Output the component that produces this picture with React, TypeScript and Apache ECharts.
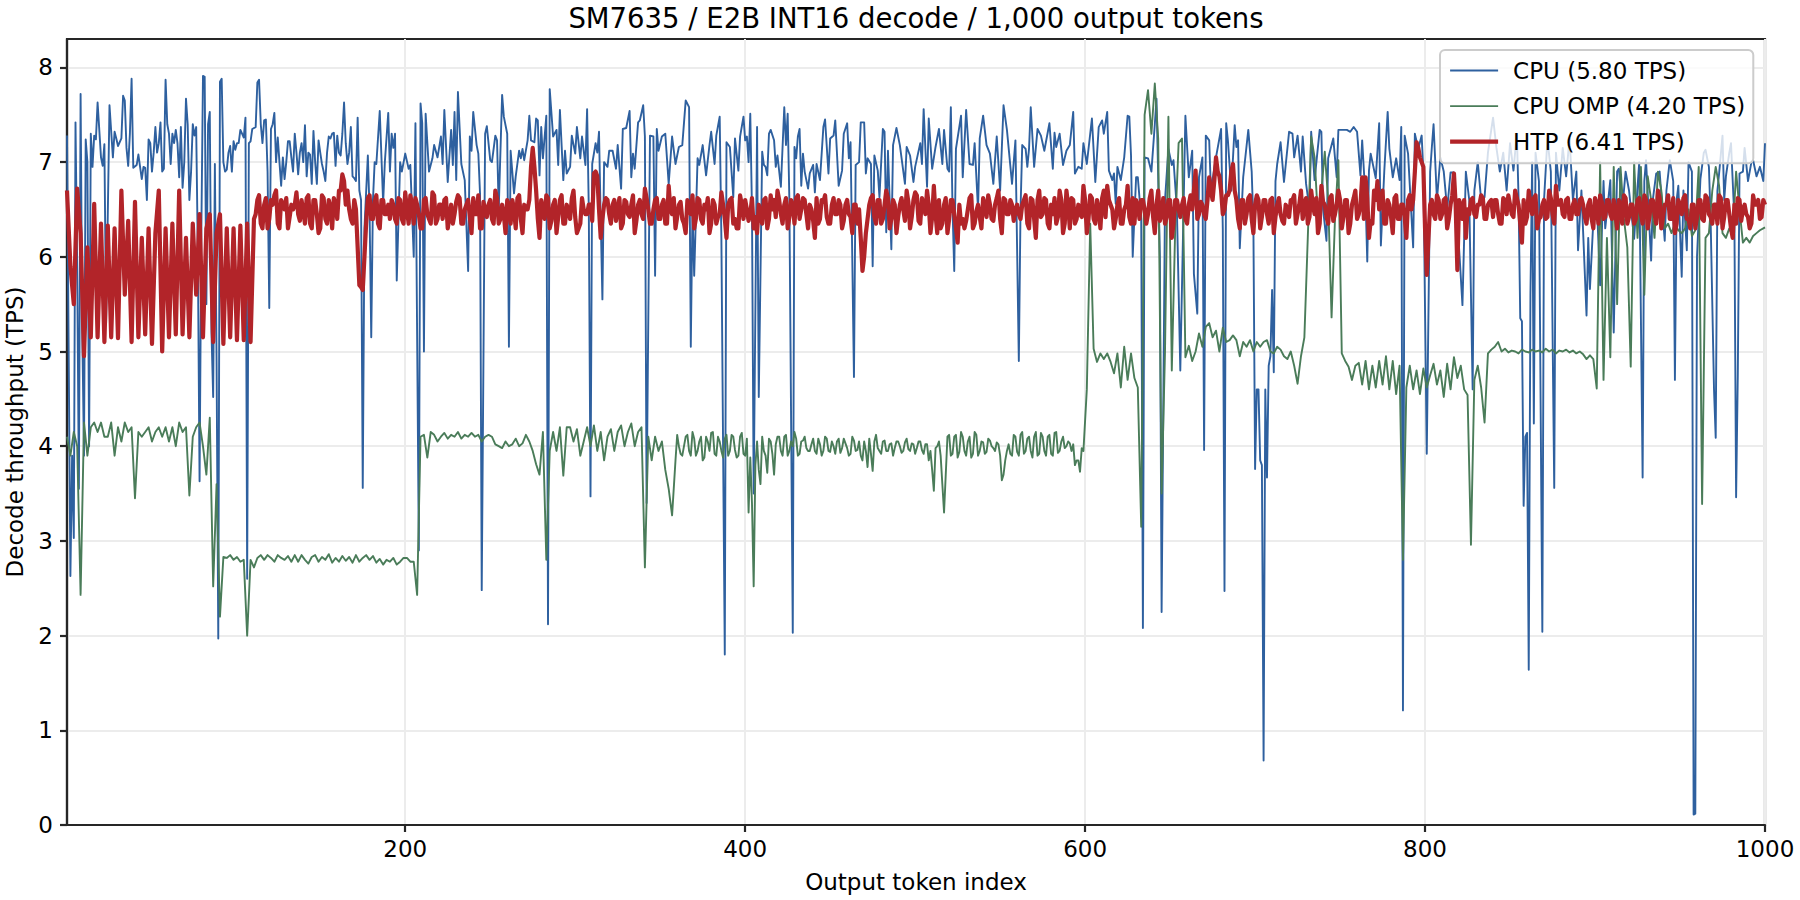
import React, { useEffect, useRef } from "react";
import * as echarts from "echarts";

const titleText = "SM7635 / E2B INT16 decode / 1,000 output tokens";
const xTicks = [200, 400, 600, 800, 1000];
const yTicks = [0, 1, 2, 3, 4, 5, 6, 7, 8];

// CPU: [token index, TPS]
const cpuA = [[1,7.28],[3,2.63],[4,3.9],[5,3.03],[6,7.42],[7,5.9],[8,3.55],[9,7.72],[10,5.2],[11,3.9],[12,7.24],[13,7.0],[14,4.0],[15,7.3],[16,6.95],[17,7.28],[18,7.24],[19,7.63],[21,7.05],[22,6.96],[23,7.19],[24,5.3],[26,7.6],[28,7.05],[29,7.32],[30,7.25],[31,7.17],[33,7.25],[34,7.7],[35,7.65],[36,7.15],[37,6.96],[38,7.3],[39,7.88],[40,6.94],[42,6.97],[43,7.08],[44,6.95],[45,6.82],[46,6.95],[47,6.94],[48,6.6],[49,7.24],[50,7.2],[51,6.9],[52,7.1],[53,7.37],[54,7.1],[55,7.2],[56,7.42],[57,6.9],[58,6.93],[59,7.87],[60,7.4],[61,7.3],[62,6.98],[63,7.3],[64,7.2],[65,7.34],[66,7.2],[67,6.84],[68,7.37],[69,6.73],[70,7.0],[71,7.67],[72,7.4],[73,6.6],[74,6.9],[75,7.4],[76,7.28],[77,7.37],[78,6.0],[79,3.63],[80,6.2],[81,7.91],[82,7.9],[83,5.5],[84,7.4],[85,7.53],[86,5.2],[87,4.52],[88,6.98],[89,4.9],[90,1.97],[91,7.85],[92,7.88],[93,7.0],[94,6.9],[95,6.92],[96,7.1],[97,7.17],[98,6.9],[99,7.22],[100,7.13]];
const cpuB = [[101,7.2],[102,7.2],[103,7.34],[104,7.3],[105,7.26],[106,7.47],[107,2.6],[108,7.2],[109,7.22],[110,7.35],[112,7.37],[113,7.84],[114,7.87],[115,7.4],[116,7.2],[117,7.44],[118,7.45],[119,6.9],[120,5.46],[121,7.35],[122,7.4],[123,7.52],[124,7.0],[125,7.26],[126,7.0],[127,6.75],[128,7.05],[129,6.82],[130,7.0],[131,7.22],[132,7.22],[133,7.05],[134,6.9],[135,7.3],[136,7.1],[137,6.87],[138,7.1],[139,7.2],[140,7.0],[141,7.39],[142,6.85],[143,7.1],[144,7.08],[145,6.77],[146,7.33],[147,7.0],[148,6.77],[149,7.23],[150,7.1],[151,6.98],[152,6.9],[153,6.8],[154,7.1],[155,7.27],[156,7.25],[157,7.3],[158,7.31],[159,6.96],[160,7.28],[161,7.1],[162,7.07],[163,7.3],[164,7.63],[165,7.2],[166,6.98],[167,7.1],[168,7.37],[169,6.85],[170,6.83],[171,6.8],[172,7.47],[173,6.7],[174,6.6],[175,3.56],[176,6.3],[178,7.07],[179,6.5],[180,5.15],[181,6.6],[182,7.0],[183,6.98],[185,7.54],[187,6.57],[188,7.0],[190,7.52],[191,6.9],[192,7.3],[193,7.15],[194,7.3],[195,5.75],[197,7.0],[198,6.9],[200,7.09]];
const cpuC = [[202,6.93],[203,6.97],[205,6.0],[206,7.41],[208,2.9],[209,7.62],[210,7.41],[211,5.0],[212,7.51],[214,6.9],[216,7.04],[217,7.18],[219,7.05],[221,7.27],[222,6.98],[223,7.55],[225,6.79],[227,7.34],[228,6.97],[229,7.53],[230,6.81],[231,7.74],[233,6.98],[235,6.81],[237,5.85],[238,7.27],[239,7.12],[240,7.53],[242,7.18],[243,7.09],[244,6.67],[245,2.48],[247,7.3],[248,7.38],[250,7.02],[251,7.0],[253,7.28],[254,7.23],[255,6.5],[257,7.71],[258,7.48],[260,7.3],[261,5.05],[262,7.12],[264,6.67],[265,6.85],[267,7.12],[268,7.04],[269,7.14],[270,7.02],[272,7.23],[273,7.49],[274,7.23],[276,7.21],[277,7.46],[278,7.44],[279,6.86],[280,7.37],[281,7.04],[283,7.49],[284,2.12],[285,7.77],[287,7.27],[289,7.34],[290,6.97],[291,7.55],[293,6.81],[294,7.12],[295,6.88],[297,6.95],[298,7.28],[300,7.09],[301,7.37],[303,7.04],[304,7.27],[306,6.97],[307,7.56],[308,6.5],[309,3.47],[310,6.98],[312,7.2],[313,7.1],[314,7.32],[315,6.4],[316,5.55],[317,7.0],[319,6.95],[320,7.12],[322,7.12],[324,6.93],[325,7.18],[327,6.72],[328,7.35],[330,7.36],[332,7.54],[333,6.84],[334,7.09],[335,6.93],[337,7.42],[338,7.44],[340,7.6],[341,7.27],[342,3.4]];
const cpuD = [[344,7.28],[346,7.27],[347,5.8],[348,7.35],[349,7.12],[351,7.27],[353,7.3],[355,6.77],[357,7.27],[359,6.98],[361,7.16],[363,7.18],[365,7.65],[367,7.58],[368,5.05],[369,6.5],[370,5.8],[372,7.04],[373,6.97],[375,7.18],[377,6.86],[379,7.18],[380,7.32],[382,6.98],[383,7.28],[385,7.48],[386,6.2],[388,1.8],[389,7.21],[391,7.16],[393,6.63],[394,7.25],[396,6.91],[397,7.27],[399,7.48],[400,7.23],[401,7.27],[402,7.0],[403,7.51],[404,6.5],[405,3.5],[407,7.37],[408,4.52],[410,7.11],[411,6.97],[412,6.95],[413,6.86],[414,7.3],[415,7.34],[417,7.23],[418,6.95],[419,7.07],[421,6.74],[423,7.58],[424,7.18],[425,7.51],[426,6.6],[428,2.03],[429,7.16],[430,7.04],[431,7.27],[432,7.35],[433,6.75],[434,7.09],[435,6.9],[437,6.72],[438,6.88],[440,6.97],[441,6.68],[442,6.98],[444,6.81],[446,7.37],[447,7.45],[449,6.88],[450,7.25],[452,7.28],[453,7.44],[455,6.75],[457,6.91],[458,7.3],[460,7.41],[461,7.04],[462,7.21],[463,6.0],[464,4.73],[465,6.97],[467,7.0],[468,7.42],[470,7.42],[471,6.88],[472,7.04],[474,6.98],[475,5.9],[476,7.07],[478,6.91],[479,6.63],[481,7.35],[482,7.32],[483,6.26],[484,7.12],[486,6.08],[487,7.18],[489,7.36],[491,7.18],[494,6.77],[495,7.16],[497,7.07],[499,6.79],[500,6.95]];
const cpuE = [[503,7.2],[504,6.98],[505,7.56],[507,6.74],[508,7.46],[510,6.93],[512,7.16],[514,7.35],[516,6.98],[517,7.34],[519,6.93],[520,6.9],[521,7.58],[522,6.5],[523,5.85],[524,7.14],[527,7.49],[528,6.84],[530,7.55],[532,6.98],[534,6.97],[535,7.2],[537,6.5],[538,7.25],[540,7.49],[542,7.18],[544,7.09],[546,6.77],[548,7.27],[550,6.7],[552,7.6],[554,7.34],[557,6.77],[559,7.23],[561,4.9],[562,6.5],[563,7.18],[565,7.14],[566,6.95],[567,7.14],[568,7.58],[570,6.95],[572,7.35],[574,7.28],[576,7.12],[579,7.41],[581,6.93],[582,7.31],[583,7.16],[585,7.3],[587,6.97],[589,7.12],[591,7.18],[593,7.53],[594,6.88],[596,6.95],[598,6.93],[599,7.2],[601,6.98],[604,7.46],[606,6.79],[608,7.37],[610,7.44],[611,7.3],[613,7.53],[614,6.91],[616,6.81],[617,6.88],[618,6.56],[619,6.95],[621,6.81],[623,7.05],[625,7.49],[626,7.48],[627,7.07],[628,6.0],[630,6.84],[631,6.84],[633,6.4],[634,2.08],[635,7.05],[637,7.04],[639,6.9],[641,7.4],[642,7.67],[644,6.0],[645,2.25],[647,6.6],[649,7.14],[651,6.97],[652,7.02],[654,6.5],[656,4.8],[659,7.49],[661,6.84],[663,7.12],[664,5.82],[666,5.4],[667,6.84],[669,7.05],[670,3.96],[671,7.28],[673,7.23],[674,6.7],[677,7.05],[680,7.35],[681,6.3],[682,2.47],[683,7.41],[684,7.23],[686,6.7],[688,7.39],[689,7.16],[690,7.23],[691,6.09],[693,6.84],[696,7.34],[698,6.9],[699,6.35]];
const cpuF = [[700,3.76],[701,4.6],[702,4.6],[703,3.85],[704,3.8],[705,0.68],[706,4.6],[707,3.67],[708,4.85],[709,4.95],[710,5.65],[711,4.78],[712,6.8],[713,6.98],[715,7.21],[717,6.79],[720,7.32],[722,7.3],[723,7.05],[725,7.28],[727,6.9],[728,7.27],[730,6.77],[732,6.5],[733,7.32],[735,6.81],[738,7.34],[739,7.32],[740,6.5],[742,6.17],[743,7.04],[746,7.25],[748,6.84],[749,7.34],[752,7.34],[754,7.34],[756,7.32],[758,7.37],[760,7.32],[762,6.86],[763,7.23],[765,6.6],[766,5.95],[767,6.91],[768,7.09],[771,6.83],[773,7.41],[774,6.12],[776,6.9],[778,7.53],[779,7.14],[781,6.84],[783,7.04],[785,6.81],[786,7.37],[787,1.21],[788,7.28],[790,7.09],[793,6.1],[794,7.3],[796,7.14],[798,7.28],[799,6.9],[801,3.92],[803,6.9],[804,7.16],[805,7.4],[807,6.6],[809,7.05],[811,6.9],[813,6.5],[815,6.89],[817,6.89],[819,6.4],[822,5.49],[824,6.9],[826,6.6],[828,4.6],[829,6.7],[831,7.0],[833,6.6],[835,6.63],[837,7.1],[840,7.47],[842,7.15],[844,6.9],[846,7.1],[848,6.7],[850,7.2],[852,6.91],[854,7.3],[855,6.63],[856,5.35],[857,5.32],[858,3.37],[859,4.1],[860,4.14],[861,1.64],[862,5.6],[863,7.0],[864,4.24],[865,7.1],[867,6.8],[869,2.04],[870,6.6],[872,7.25],[874,6.9],[876,3.56],[877,7.1],[879,6.7],[881,7.15],[883,6.85],[885,7.25],[887,6.6],[889,6.9],[890,6.07],[892,6.7],[895,5.38],[896,6.2],[897,5.66],[899,6.38]];
const cpuG = [[901,6.6],[903,5.7],[905,6.8],[906,6.3],[909,6.81],[911,5.2],[913,6.9],[914,6.93],[916,6.5],[918,6.9],[920,6.7],[923,6.19],[926,7.0],[928,3.67],[929,6.8],[930,7.02],[933,5.96],[934,6.6],[936,6.88],[938,6.9],[941,6.17],[942,6.7],[944,7.02],[946,6.8],[947,4.7],[948,6.6],[949,6.75],[951,5.79],[952,6.7],[954,6.07],[955,7.0],[957,6.9],[958,0.11],[959,0.12],[960,6.0],[962,6.82],[964,7.1],[965,7.13],[967,6.95],[968,6.4],[970,4.6],[971,4.09],[972,6.7],[973,6.88],[975,7.28],[976,6.6],[977,6.85],[979,7.1],[980,7.2],[982,6.4],[983,3.46],[984,4.76],[985,6.88],[987,6.9],[988,7.15],[990,6.8],[992,7.0],[993,7.02],[995,6.85],[997,6.95],[999,6.8],[1000,7.2]];

// CPU OMP: one reading per two tokens (1, 3, 5, ...)
const ompA = [4.10,3.90,4.15,4.00,2.43,4.25,3.90,4.20,4.25,4.15,4.25,4.10,4.10,4.25,3.90,4.20,4.05,4.25,4.15,4.20,3.45,4.15,4.10,4.15,4.20,4.05,4.15,4.20,4.10,4.20,4.05,4.20,4.00,4.25,4.15,4.20,3.48,4.10,4.20,4.25,4.00,3.70,4.30,2.52,3.60,2.20,2.83,2.82,2.85,2.80];
const ompB = [2.83,2.78,2.80,2.00,2.80,2.72,2.82,2.85,2.80,2.85,2.82,2.78,2.85,2.82,2.80,2.84,2.78,2.85,2.78,2.85,2.80,2.76,2.83,2.85,2.78,2.83,2.80,2.86,2.77,2.82,2.78,2.84,2.79,2.83,2.77,2.85,2.78,2.82,2.85,2.80,2.84,2.77,2.81,2.75,2.80,2.78,2.82,2.75,2.78,2.82];
const ompC = [2.82,2.78,2.78,2.43,4.10,4.12,3.88,4.15,4.12,4.05,4.10,4.14,4.08,4.12,4.10,4.15,4.08,4.12,4.10,4.14,4.10,4.12,4.05,4.10,4.12,4.10,4.02,4.00,3.98,4.05,4.00,4.02,4.08,4.00,4.03,4.12,4.05,3.95,3.81,3.70,4.15,2.80,3.95,4.15,3.95,4.20,3.69,4.20,4.20,4.05];
const ompD = [4.18,3.90,4.05,4.20,4.00,4.22,3.95,4.15,3.85,4.10,4.18,3.95,4.15,4.22,4.00,4.15,4.24,4.00,4.15,4.20,2.72,4.10,3.85,4.10,3.95,4.05,3.75,3.55,3.27,3.85,4.00,3.90,4.10,3.95,4.15,3.90,4.05,3.85,4.10,3.95,4.15,3.90,4.05,3.88,4.12,3.95,4.10,3.88,4.10,3.92];
const ompE = [4.08,3.88,2.52,4.05,3.60,3.95,3.72,4.05,3.70,4.10,3.95,4.10,3.90,4.05,4.15,3.90,4.05,4.10,3.95,4.02,3.95,4.08,3.90,4.10,3.95,4.05,3.92,4.08,3.98,4.03,3.90,4.10,3.95,4.05,3.85,3.95,4.08,3.74,4.12,3.95,4.05,3.95,4.02,3.90,4.05,4.00,3.95,4.08,3.95,4.02];
const ompF = [3.98,4.05,3.92,4.02,3.95,3.53,4.00,3.90,3.30,4.10,3.90,4.10,3.88,4.15,3.95,4.05,3.88,4.15,3.90,4.05,3.92,4.08,4.00,3.95,4.02,3.64,3.85,4.02,3.90,4.10,3.90,4.15,3.95,4.10,3.88,4.15,3.92,4.10,3.90,4.12,3.90,4.15,3.95,4.10,4.00,4.03,4.02,3.85,3.73,3.95];
const ompG = [4.60,6.35,5.03,4.89,4.98,4.92,4.98,4.89,4.77,4.98,4.62,5.05,4.70,4.98,4.72,4.62,3.15,7.50,7.76,7.30,7.83,7.25,3.50,5.00,7.48,4.80,6.30,7.20,7.25,4.94,5.06,4.90,5.00,5.19,5.05,5.26,5.30,5.15,5.22,5.00,5.25,5.10,5.12,5.17,5.12,4.95,5.10,5.05,5.12,5.00];
const ompH = [5.10,5.05,5.10,5.12,5.00,4.98,5.05,5.02,4.95,4.92,5.00,4.85,4.66,4.95,5.15,6.20,7.27,7.05,6.40,6.70,7.11,6.60,5.36,6.40,7.02,4.98,4.90,4.84,4.70,4.85,4.88,4.65,4.90,4.60,4.85,4.62,4.90,4.65,4.95,4.60,4.90,4.55,4.85,2.80,4.62,4.85,4.60,4.80,4.55,4.82];
const ompI = [4.62,4.75,4.87,4.65,4.80,4.52,4.87,4.60,4.94,4.72,4.85,4.60,4.54,2.96,4.70,4.85,4.62,4.25,4.98,5.02,5.05,5.10,5.00,5.03,4.99,5.01,5.00,4.98,5.02,5.00,4.99,5.02,5.00,5.01,4.99,5.03,5.00,5.02,4.98,5.01,5.00,5.02,4.99,5.01,4.98,5.00,4.97,4.92,4.96,4.92];
const ompJ = [4.61,7.00,4.70,6.20,4.94,6.95,5.50,6.95,6.40,6.10,4.84,7.00,6.20,6.95,5.60,6.85,6.60,6.20,6.90,6.70,6.30,6.35,6.25,6.35,6.28,6.25,6.30,6.50,6.22,6.28,6.95,3.39,6.20,6.25,6.70,6.95,6.75,6.25,6.20,6.30,6.22,6.90,6.50,6.15,6.20,6.15,6.22,6.25,6.28,6.30,6.31];
// CPU OMP, even tokens 360, 362, ... 598 (the fast-flicker stretch)
const ompEven = [
  4.12,3.92,4.00,4.12,3.90,4.08,3.95,4.10,3.88,4.05,4.14,3.92,4.10,3.95,4.08,3.90,4.12,3.96,3.90,4.14,
  3.90,3.30,3.40,3.80,3.75,4.10,3.90,4.08,3.92,4.02,4.10,3.90,4.12,3.95,4.00,4.08,3.92,4.06,3.98,3.95,
  4.08,3.92,4.02,3.95,4.08,3.94,4.00,4.05,3.93,4.08,3.98,3.92,4.06,3.96,3.90,4.05,3.78,3.92,4.05,3.98,
  3.92,4.06,3.95,4.03,3.98,4.05,3.93,4.04,3.97,4.03,3.92,4.05,3.96,4.02,3.85,3.75,3.98,4.05,3.60,3.70,
  4.12,3.92,4.12,3.94,4.10,3.90,4.10,3.92,4.12,3.95,4.04,3.94,4.06,3.98,4.04,3.90,3.70,3.95,3.92,4.12,
  3.94,4.12,3.92,4.08,3.95,4.10,3.90,4.14,3.95,4.10,3.92,4.14,3.93,4.05,3.98,4.05,3.95,3.80,3.85,3.98,
];

// HTP: one reading per two tokens (1, 3, 5, ...)
const htpA = [6.70,5.90,5.50,6.72,6.25,4.95,6.10,5.15,6.56,5.15,6.35,5.10,6.33,5.15,6.30,5.14,6.70,5.60,6.38,5.10,6.58,5.15,6.20,5.18,6.30,5.08,6.25,6.70,5.00,6.30,5.15,6.35,5.18,6.70,5.18,6.20,5.15,6.35,5.60,6.45,5.15,6.30,6.45,5.10,6.25,6.45,5.08,6.30,5.15,6.30];
const htpB = [5.12,6.33,5.12,6.35,5.10,6.40,6.60,6.35,6.55,6.30,6.60,6.65,6.35,6.60,6.50,6.30,6.55,6.55,6.45,6.60,6.35,6.65,6.30,6.60,6.25,6.65,6.40,6.60,6.30,6.55,6.70,6.87,6.55,6.50,6.35,6.50,5.70,5.65,6.35,6.65,6.40,6.65,6.30,6.60,6.45,6.40,6.55,6.35,6.60,6.35];
const htpC = [6.50,6.65,6.35,6.55,6.30,6.60,6.45,6.35,6.65,6.40,6.55,6.60,6.30,6.55,6.45,6.65,6.35,6.50,6.60,6.25,6.45,6.65,6.30,6.50,6.55,6.40,6.70,6.35,6.55,6.25,6.55,6.60,6.30,6.65,6.25,6.50,6.60,7.15,6.70,6.20,6.50,6.65,6.30,6.55,6.25,6.60,6.35,6.55,6.40,6.70];
const htpD = [6.25,6.35,6.50,6.45,6.55,6.88,6.85,6.20,6.55,6.60,6.35,6.60,6.50,6.30,6.60,6.45,6.55,6.25,6.55,6.45,6.72,6.50,6.35,6.60,6.40,6.55,6.35,6.75,6.45,6.30,6.55,6.40,6.25,6.55,6.65,6.40,6.60,6.35,6.50,6.25,6.60,6.35,6.45,6.55,6.20,6.60,6.35,6.30,6.65,6.40];
const htpE = [6.50,6.45,6.30,6.25,6.45,6.60,6.30,6.65,6.60,6.70,6.45,6.55,6.30,6.60,6.35,6.65,6.50,6.60,6.30,6.50,6.20,6.35,6.60,6.65,6.35,6.55,6.45,6.60,6.30,6.55,6.45,6.25,6.55,6.50,5.85,6.25,6.55,6.65,6.35,6.60,6.40,6.70,6.30,6.60,6.25,6.55,6.50,6.70,6.30,6.60];
const htpF = [6.65,6.35,6.55,6.70,6.25,6.75,6.25,6.30,6.55,6.25,6.60,6.45,6.15,6.35,6.30,6.50,6.65,6.35,6.55,6.30,6.55,6.65,6.40,6.55,6.70,6.25,6.60,6.45,6.55,6.50,6.45,6.55,6.65,6.30,6.60,6.20,6.70,6.45,6.60,6.30,6.45,6.35,6.70,6.25,6.70,6.30,6.60,6.40,6.45,6.75];
const htpG = [6.25,6.65,6.40,6.60,6.30,6.70,6.75,6.55,6.30,6.55,6.35,6.50,6.75,6.35,6.35,6.55,6.60,6.50,6.45,6.70,6.25,6.70,6.45,6.35,6.60,6.20,6.60,6.50,6.55,6.40,6.55,6.50,6.91,6.45,6.55,6.40,6.84,6.60,7.05,6.85,6.45,6.65,6.70,6.98,6.60,6.30,6.60,6.45,6.65,6.25];
const htpH = [6.65,6.30,6.60,6.45,6.60,6.25,6.55,6.45,6.35,6.50,6.60,6.65,6.45,6.70,6.55,6.35,6.70,6.45,6.25,6.75,6.55,6.35,6.65,6.45,6.70,6.30,6.60,6.25,6.55,6.70,6.45,6.84,6.84,6.20,6.35,6.60,6.50,6.70,6.35,6.55,6.25,6.65,6.40,6.55,6.20,6.65,6.60,7.21,7.05,6.95];
const htpI = [5.81,6.55,6.45,6.65,6.40,6.60,6.30,6.55,6.88,5.86,6.55,6.60,6.50,6.60,6.45,6.55,6.65,6.40,6.55,6.60,6.60,6.45,6.35,6.60,6.65,6.45,6.70,6.55,6.15,6.35,6.70,6.45,6.65,6.40,6.55,6.40,6.70,6.45,6.75,6.55,6.45,6.60,6.40,6.55,6.45,6.60,6.55,6.35,6.60,6.30];
const htpJ = [6.55,6.65,6.40,6.60,6.45,6.60,6.30,6.55,6.65,6.35,6.55,6.35,6.60,6.45,6.65,6.30,6.60,6.45,6.70,6.30,6.55,6.65,6.40,6.25,6.60,6.45,6.65,6.40,6.55,6.30,6.60,6.40,6.65,6.45,6.35,6.55,6.65,6.30,6.60,6.45,6.20,6.35,6.60,6.50,6.45,6.30,6.65,6.55,6.40,6.60,6.55];
// HTP, even tokens 112, 114, ... 998
const htpEven = [
  6.45,6.65,6.30,6.62,6.40,6.55,6.70,6.30,6.55,6.62,6.42,6.50,6.68,6.38,6.48,6.62,6.35,6.60,6.45,6.30,
  6.62,6.35,6.52,6.62,6.40,6.70,6.80,6.70,6.40,6.60,6.10,5.68,6.00,6.62,6.40,6.58,6.35,6.60,6.45,6.55,
  6.60,6.40,6.62,6.40,6.68,6.35,6.55,6.62,6.45,6.30,6.62,6.40,6.68,6.35,6.55,6.40,6.62,6.42,6.35,6.58,
  6.62,6.35,6.55,6.42,6.62,6.45,6.30,6.58,6.42,6.60,6.35,6.62,6.40,6.45,6.60,6.35,6.50,6.62,6.40,6.55,
  6.50,6.95,6.95,6.40,6.60,6.40,6.62,6.38,6.60,6.42,6.65,6.35,6.48,6.62,6.42,6.30,6.62,6.45,6.55,6.38,
  6.90,6.50,6.40,6.62,6.45,6.55,6.38,6.62,6.35,6.58,6.42,6.65,6.38,6.60,6.40,6.62,6.35,6.50,6.62,6.40,
  6.60,6.35,6.50,6.62,6.42,6.58,6.35,6.60,6.45,6.30,6.62,6.40,6.55,6.62,6.35,6.55,6.42,6.68,6.40,6.55,
  6.62,6.40,6.30,6.55,6.60,6.38,6.62,6.42,6.55,6.35,6.62,6.40,6.50,6.42,6.60,6.35,6.62,6.42,6.55,6.62,
  6.40,6.62,6.45,6.55,6.38,6.62,6.40,6.58,6.42,6.35,6.62,6.45,6.55,6.38,6.60,6.42,6.55,6.35,6.20,6.00,
  6.40,6.62,6.42,6.60,6.35,6.55,6.62,6.40,6.55,6.42,6.62,6.38,6.58,6.42,6.68,6.38,6.62,6.45,6.55,6.42,
  6.45,6.60,6.35,6.62,6.40,6.60,6.30,6.55,6.40,6.38,6.62,6.30,6.48,6.42,6.62,6.42,6.55,6.38,6.62,6.40,
  6.62,6.45,6.60,6.38,6.55,6.40,6.60,6.35,6.62,6.40,6.60,6.42,6.62,6.35,6.55,6.62,6.42,6.60,6.35,6.55,
  6.62,6.35,6.55,6.42,6.60,6.40,6.62,6.35,6.50,6.62,6.42,6.60,6.50,6.40,6.62,6.35,6.55,6.42,6.62,6.60,
  6.40,6.60,6.35,6.62,6.42,6.55,6.38,6.62,6.42,6.60,6.35,6.60,6.42,6.62,6.35,6.65,6.70,6.40,6.58,6.45,
  6.60,6.70,6.80,6.90,6.70,6.50,6.65,6.90,6.70,6.40,6.60,6.35,6.62,6.40,6.55,6.60,6.42,6.60,6.35,6.62,
  6.42,6.62,6.38,6.55,6.42,6.60,6.35,6.55,6.40,6.62,6.42,6.55,6.62,6.35,6.58,6.42,6.62,6.38,6.55,6.60,
  6.42,6.60,6.35,6.62,6.40,6.55,6.40,6.62,6.38,6.70,6.80,6.55,6.35,6.60,6.42,6.62,6.40,6.55,6.42,6.60,
  6.50,6.90,7.15,7.00,6.30,6.20,6.60,6.40,6.60,6.45,6.62,6.40,6.65,6.55,6.60,6.40,6.20,6.45,6.62,6.42,
  6.55,6.62,6.40,6.58,6.42,6.60,6.35,6.62,6.45,6.55,6.42,6.62,6.35,6.60,6.42,6.55,6.62,6.30,6.42,6.60,
  6.42,6.62,6.35,6.55,6.60,6.42,6.62,6.40,6.60,6.45,6.62,6.42,6.55,6.40,6.62,6.35,6.58,6.42,6.60,6.40,
  6.45,6.60,6.35,6.62,6.42,6.55,6.40,6.62,6.35,6.60,6.42,6.60,6.35,6.62,6.42,6.55,6.40,6.62,6.35,6.55,
  6.62,6.40,6.30,6.55,6.42,6.60,6.38,6.62,6.42,6.55,6.35,6.62,6.42,6.60,6.30,6.55,6.62,6.38,6.55,6.42,
  6.35,6.55,6.60,6.42,
];

const cpuPoints = [...cpuA, ...cpuB, ...cpuC, ...cpuD, ...cpuE, ...cpuF, ...cpuG];
const ompValues = [...ompA, ...ompB, ...ompC, ...ompD, ...ompE, ...ompF, ...ompG, ...ompH, ...ompI, ...ompJ];
const htpValues = [...htpA, ...htpB, ...htpC, ...htpD, ...htpE, ...htpF, ...htpG, ...htpH, ...htpI, ...htpJ];
const withTokens = (vals: number[]) => vals.map((v, i) => [Math.min(i * 2 + 1, 1000), v]);
const mergeEven = (odd: number[][], even: number[], start: number) =>
  [...odd, ...even.map((v, i) => [start + i * 2, v])].sort((a, b) => a[0] - b[0]);
const ompPoints = mergeEven(withTokens(ompValues), ompEven, 360);
const htpPoints = mergeEven(withTokens(htpValues), htpEven, 112);

const FONT = "DejaVu Sans";
const INK = "#000000";
const FRAME = "#262626";
const BLUE = "#2e609f";
const GREEN = "#4a7c59";
const RED = "#b22429";

export default function App() {
  const ref = useRef<HTMLDivElement>(null);
  useEffect(() => {
    document.body.style.margin = "0";
    const chart = echarts.init(ref.current!, undefined, { renderer: "svg" });
    chart.setOption({
      animation: false,
      backgroundColor: "#ffffff",
      textStyle: { fontFamily: FONT },
      title: {
        text: titleText,
        left: 916,
        top: 18,
        textAlign: "center",
        textVerticalAlign: "middle",
        padding: 0,
        textStyle: { fontFamily: FONT, fontSize: 27.5, fontWeight: "normal", color: INK },
      },
      grid: { left: 67, top: 39, right: 35, bottom: 75, show: true, borderColor: FRAME, borderWidth: 2.2, backgroundColor: "transparent", outerBoundsMode: "none" },
      legend: {
        orient: "vertical",
        left: 1440,
        top: 50,
        padding: [9, 8, 10, 8],
        itemWidth: 48,
        itemHeight: 22,
        itemGap: 12.6,
        selectedMode: false,
        backgroundColor: "rgba(255,255,255,0.8)",
        borderColor: "#cccccc",
        borderWidth: 2,
        borderRadius: 5,
        itemStyle: { opacity: 0 },
        textStyle: { fontFamily: FONT, fontSize: 23, color: INK, padding: [0, 0, 0, 10] },
        data: [
          { name: "CPU (5.80 TPS)", lineStyle: { width: 1.9, color: BLUE } },
          { name: "CPU OMP (4.20 TPS)", lineStyle: { width: 1.9, color: GREEN } },
          { name: "HTP (6.41 TPS)", lineStyle: { width: 4.2, color: RED } },
        ],
      },
      xAxis: {
        type: "value",
        min: 1,
        max: 1000,
        name: "Output token index",
        nameLocation: "middle",
        nameGap: 45,
        nameTextStyle: { fontFamily: FONT, fontSize: 23, color: INK },
        axisLine: { show: true, lineStyle: { color: FRAME, width: 2.2 } },
        axisTick: { show: true, length: 7, lineStyle: { color: FRAME, width: 2.2 }, customValues: xTicks },
        axisLabel: { fontFamily: FONT, fontSize: 23, color: INK, margin: 12, customValues: xTicks, formatter: (v: number) => String(v) },
        splitLine: { show: true, lineStyle: { color: "#ececec", width: 2 } },
      },
      yAxis: {
        type: "value",
        min: 0,
        max: 8.3,
        interval: 1,
        name: "Decode throughput (TPS)",
        nameLocation: "middle",
        nameGap: 41,
        nameTextStyle: { fontFamily: FONT, fontSize: 23, color: INK },
        axisLine: { show: true, lineStyle: { color: FRAME, width: 2.2 } },
        axisTick: { show: true, length: 7, lineStyle: { color: FRAME, width: 2.2 }, customValues: yTicks },
        axisLabel: { fontFamily: FONT, fontSize: 23, color: INK, margin: 14, customValues: yTicks },
        splitLine: { show: true, lineStyle: { color: "#ececec", width: 2 } },
      },
      series: [
        { name: "CPU (5.80 TPS)", type: "line", data: cpuPoints, showSymbol: false, symbol: "none", color: BLUE, lineStyle: { width: 1.9, color: BLUE, join: "round" } },
        { name: "CPU OMP (4.20 TPS)", type: "line", data: ompPoints, showSymbol: false, symbol: "none", color: GREEN, lineStyle: { width: 1.9, color: GREEN, join: "round" } },
        { name: "HTP (6.41 TPS)", type: "line", data: htpPoints, showSymbol: false, symbol: "none", color: RED, lineStyle: { width: 4.2, color: RED, join: "round" } },
      ],
    });
    return () => chart.dispose();
  }, []);
  return <div ref={ref} style={{ position: "absolute", left: 0, top: 0, width: 1800, height: 900 }} />;
}
